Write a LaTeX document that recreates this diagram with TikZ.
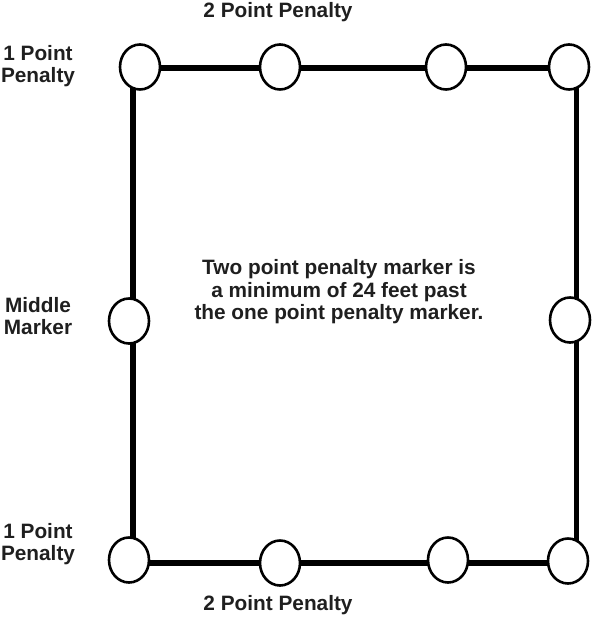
\documentclass[tikz,border=0pt]{standalone}
\usepackage{fontspec}
\setmainfont{Liberation Sans}
\usetikzlibrary{shapes.geometric}
\begin{document}
\begin{tikzpicture}[x=1pt,y=-1pt,
  marker/.style={ellipse,draw=black,fill=white,line width=2.6pt,minimum width=40pt,minimum height=45pt,inner sep=0pt},
  track/.style={line width=5.5pt,line cap=butt,line join=miter},
  lbl/.style={font=\fontsize{20.8}{22.5}\selectfont\bfseries,text=black!88,align=center,inner sep=0pt}]
\useasboundingbox (0,0) rectangle (592,620);
% corners of the track
\coordinate (ctl) at (133,68);
\coordinate (ctr) at (576.5,68);
\coordinate (cbr) at (576.5,563);
\coordinate (cbl) at (133,563);
\coordinate (ctlh) at (140,68);
\coordinate (cblh) at (129,563);
\coordinate (cbrh) at (568,563);
\draw[track] (ctlh) -- (ctr) -- (cbr);
\draw[track] (ctl) -- (cbl);
\draw[track] (cblh) -- (cbrh);
% markers
\node[marker] (t1) at (140,67) {};
\node[marker] (t2) at (280,67) {};
\node[marker] (t3) at (446,67) {};
\node[marker] (t4) at (569,67) {};
\node[marker] (m1) at (129,321) {};
\node[marker] (m2) at (570,320) {};
\node[marker] (b1) at (129,560) {};
\node[marker] (b2) at (280,563) {};
\node[marker] (b3) at (448,560) {};
\node[marker] (b4) at (568,561) {};
% labels
\node[lbl] (ltop) at (278,12) {2 Point Penalty};
\node[lbl] (lbot) at (278,605) {2 Point Penalty};
\node[lbl] (ltl) at (38,66) {1 Point\\Penalty};
\node[lbl] (lmid) at (38,316) {Middle\\Marker};
\node[lbl] (lbl) at (38,544) {1 Point\\Penalty};
\node[lbl] (lctr) at (339,292) {Two point penalty marker is\\a minimum of 24 feet past\\the one point penalty marker.};
\end{tikzpicture}
\end{document}
